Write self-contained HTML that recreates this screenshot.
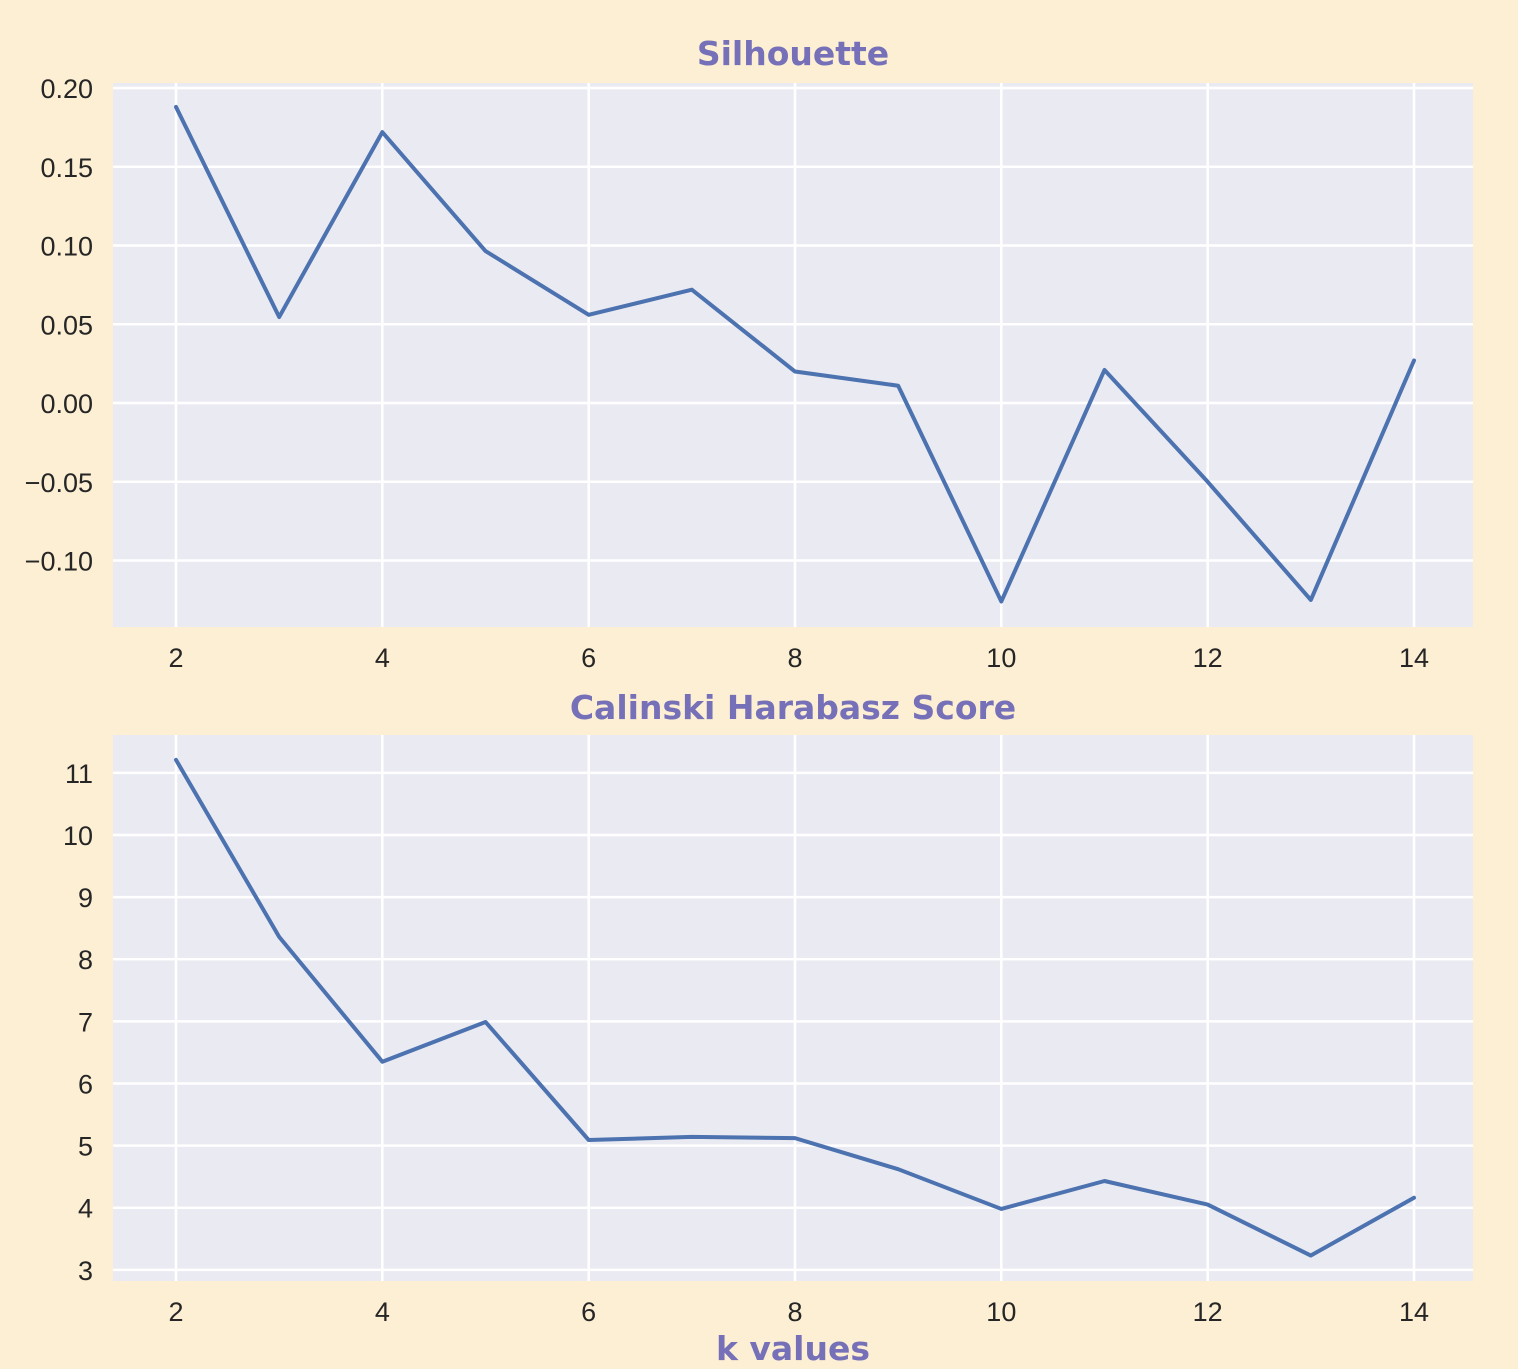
<!DOCTYPE html>
<html><head><meta charset="utf-8"><style>
body{margin:0;background:#fcefd3;}
svg{display:block;font-family:"Liberation Sans",Arial,sans-serif;}
</style></head><body>
<svg id="chart" width="1518" height="1369">
<rect width="1518" height="1369" fill="#fcefd3"/>
</svg>
<script>
const kValues=[2,3,4,5,6,7,8,9,10,11,12,13,14];
const silhouette=[0.188,0.0546,0.172,0.0965,0.056,0.072,0.020,0.011,-0.126,0.021,-0.050,-0.125,0.027];
const calinski=[11.21,8.36,6.35,6.99,5.09,5.14,5.12,4.62,3.98,4.43,4.05,3.23,4.16];
const xTicks=[2,4,6,8,10,12,14];
const silTicks=[0.20,0.15,0.10,0.05,0.00,-0.05,-0.10];
const silLabels=["0.20","0.15","0.10","0.05","0.00","\u22120.05","\u22120.10"];
const chTicks=[11,10,9,8,7,6,5,4,3];
const chLabels=["11","10","9","8","7","6","5","4","3"];

const svg=document.getElementById('chart');
const NS='http://www.w3.org/2000/svg';
function mk(tag,attrs){const e=document.createElementNS(NS,tag);for(const k in attrs)e.setAttribute(k,attrs[k]);svg.appendChild(e);return e;}
const X0=113,X1=1473;
const xs=v=>176+(v-2)*(1414-176)/12;
const TITLE_FONT='"DejaVu Sans","Liberation Sans",sans-serif';

function panel(top,bottom,ymin,ymax,ticks,labels,vals,title,titleY,prefix){
  const ys=v=>bottom-(v-ymin)/(ymax-ymin)*(bottom-top);
  const bg=mk('rect',{x:X0,y:top,width:X1-X0,height:bottom-top,fill:'#eaeaf2'});
  
  
  xTicks.forEach(t=>{
    const l=mk('line',{x1:xs(t),x2:xs(t),y1:top,y2:bottom,stroke:'#fff','stroke-width':2.5});
    
    
    const tx=mk('text',{x:xs(t),y:bottom+40,'text-anchor':'middle','font-size':27,fill:'#262626'});
    tx.textContent=t;
    
    
  });
  ticks.forEach((t,i)=>{
    const l=mk('line',{x1:X0,x2:X1,y1:ys(t),y2:ys(t),stroke:'#fff','stroke-width':2.5});
    
    
    const tx=mk('text',{x:93,y:ys(t)+10,'text-anchor':'end','font-size':27,fill:'#262626'});
    tx.textContent=labels[i];
    
    
  });
  const p=mk('polyline',{points:vals.map((v,i)=>xs(kValues[i])+','+ys(v)).join(' '),fill:'none',stroke:'#4c72b0','stroke-width':4,'stroke-linejoin':'round','stroke-linecap':'round'});
  
  
  const tt=mk('text',{x:(X0+X1)/2,y:titleY,'text-anchor':'middle','font-size':33,'font-weight':'bold',fill:'#7570b8','font-family':TITLE_FONT});
  tt.textContent=title;
  
  
}
panel(83,627,-0.1422,0.2032,silTicks,silLabels,silhouette,'Silhouette',65,'silhouette');
panel(735,1281,2.82,11.61,chTicks,chLabels,calinski,'Calinski Harabasz Score',719,'calinski');
const xl=mk('text',{x:(X0+X1)/2,y:1360,'text-anchor':'middle','font-size':33,'font-weight':'bold',fill:'#7570b8','font-family':TITLE_FONT});
xl.textContent='k values';


</script>
</body></html>
